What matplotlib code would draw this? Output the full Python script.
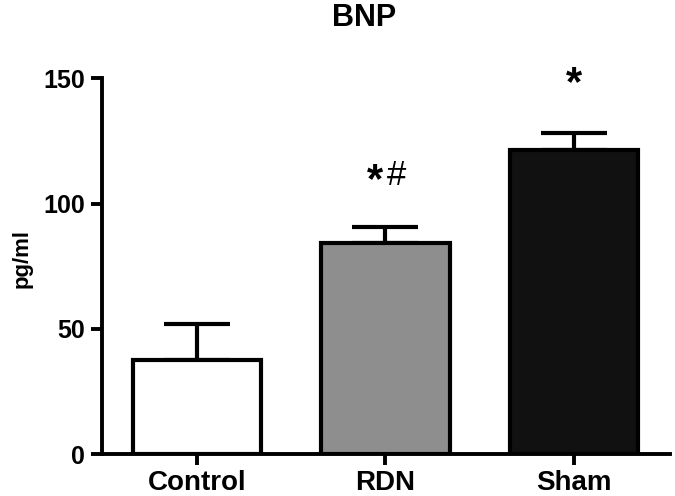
import matplotlib
matplotlib.use("Agg")
import matplotlib.pyplot as plt

categories = ["Control", "RDN", "Sham"]
means = [37.6, 84.2, 121.4]
sem = [14.4, 6.6, 6.9]
fills = ["#ffffff", "#8e8e8e", "#111111"]
marks = ["", "*#", "*"]
mark_y = [None, 112.4, 151.0]

plt.rcParams['font.family'] = ['Liberation Sans', 'DejaVu Sans']

fig = plt.figure(figsize=(6.75, 4.96), dpi=100)
ax = fig.add_axes([102/675, 1 - 454.3/496, (670-102)/675, (454.3-78.3)/496])

x = list(range(len(categories)))
ax.bar(x, means, width=0.68, color=fills, edgecolor="black", linewidth=3, zorder=2)
ax.errorbar(x, means, yerr=[[0]*len(sem), sem], fmt="none", ecolor="black",
            elinewidth=3, capsize=24, capthick=3, zorder=1)

# glyph styles: (fontsize, weight, vertical offset of baseline from visual centre, in points)
glyph_style = {"*": (30, "bold", -13.7), "#": (25, "normal", -8.8)}
for xi, m, yv in zip(x, marks, mark_y):
    if not m:
        continue
    n = len(m)
    for k, ch in enumerate(m):
        dx = (k - (n - 1) / 2) * 15.5
        fs, fw, dy = glyph_style[ch]
        ax.annotate(ch, xy=(xi, yv), xytext=(dx, dy), textcoords="offset points",
                    ha="center", va="baseline", fontsize=fs, fontweight=fw,
                    annotation_clip=False)

ax.set_xlim(-0.504, 2.51)
ax.set_ylim(0, 150)
ax.set_yticks([0, 50, 100, 150])
ax.set_xticks(x)
ax.set_xticklabels(categories)
for s in ["top", "right"]:
    ax.spines[s].set_visible(False)
for s in ["left", "bottom"]:
    ax.spines[s].set_linewidth(2.8)
ax.tick_params(axis="both", width=2.8, length=8, pad=4)
ax.tick_params(axis="y", labelsize=18)
ax.tick_params(axis="x", labelsize=20, pad=3)
for lbl in ax.get_xticklabels() + ax.get_yticklabels():
    lbl.set_fontweight("bold")

fig.text(22/675, 1 - 258/496, "pg/ml", rotation=90, ha="center", va="center",
         fontsize=16, fontweight="bold")
fig.text(364/675, 1 - 17.5/496, "BNP", ha="center", va="center", fontsize=22, fontweight="bold")

fig.savefig("out.png", dpi=100)
